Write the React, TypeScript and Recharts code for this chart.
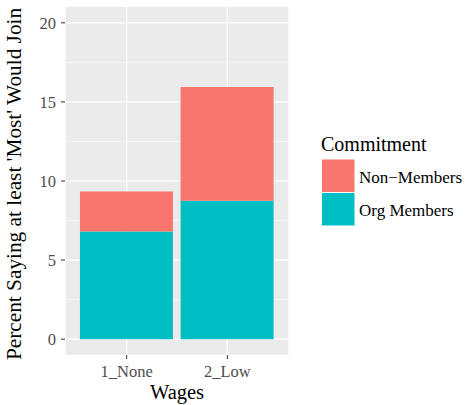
import React from 'react';
import { BarChart, Bar, XAxis, YAxis, CartesianGrid, Legend, Label } from 'recharts';

const categories = ['1_None', '2_Low'];
const orgMembers = [6.81, 8.75];
const nonMembers = [2.53, 7.2];
const yTicks = [0, 5, 10, 15, 20];
const yMinorTicks = [2.5, 7.5, 12.5, 17.5];
const legendTitle = 'Commitment';
const seriesNames = ['Non\u2212Members', 'Org Members'];
const seriesColors = ['#F8766D', '#00BFC4'];

const data = categories.map((c, i) => ({
  wage: c,
  org: orgMembers[i],
  non: nonMembers[i],
}));

const FONT = '"Liberation Serif", "Times New Roman", serif';

const XTick = (props: any) => {
  const { x, y, payload } = props;
  return (
    <text x={x} y={y + 12.5} textAnchor="middle" fontSize={16.5} fill="#4D4D4D" fontFamily={FONT}>
      {payload.value}
    </text>
  );
};

const YTick = (props: any) => {
  const { x, y, payload } = props;
  return (
    <text x={x} y={y + 5.8} textAnchor="end" fontSize={16.5} fill="#4D4D4D" fontFamily={FONT}>
      {payload.value}
    </text>
  );
};

const LegendContent = () => (
  <svg width={150} height={100} style={{ display: 'block', fontFamily: FONT }}>
    <text x={6} y={21} fontSize={20} fill="#000" fontFamily={FONT}>{legendTitle}</text>
    {seriesNames.map((name, i) => (
      <g key={name}>
        <rect x={7} y={29.5 + i * 33.5} width={32.5} height={32.5} fill={seriesColors[i]} />
        <text x={44} y={52.5 + i * 33} fontSize={17} fill="#000" fontFamily={FONT}>{name}</text>
      </g>
    ))}
  </svg>
);

export default function App() {
  return (
    <div style={{ position: 'absolute', left: 0, top: 0, width: 468, height: 405, background: '#fff', fontFamily: FONT }}>
      <BarChart
        width={468}
        height={405}
        data={data}
        margin={{ top: 7, right: 179, bottom: 0, left: 0 }}
        barCategoryGap="3.6%"
        style={{ fontFamily: FONT }}
      >
        <CartesianGrid
          fill="#EBEBEB"
          stroke="#FFFFFF"
          strokeWidth={0.6}
          vertical={false}
          horizontalValues={yMinorTicks}
        />
        <CartesianGrid
          stroke="#FFFFFF"
          strokeWidth={1.2}
          horizontalValues={yTicks}
        />
        <XAxis
          dataKey="wage"
          type="category"
          height={50}
          padding={{ left: 11.3, right: 11.3 }}
          axisLine={false}
          tickLine={{ stroke: '#333333', strokeWidth: 1 }}
          tickSize={4}
          tickMargin={5}
          tick={<XTick />}
        >
          <Label
            content={() => (
              <text x={177} y={399} textAnchor="middle" fontSize={20.5} fill="#000" fontFamily={FONT}>
                Wages
              </text>
            )}
          />
        </XAxis>
        <YAxis
          type="number"
          width={65}
          domain={[-1, 21]}
          ticks={yTicks}
          allowDataOverflow
          axisLine={false}
          tickLine={{ stroke: '#333333', strokeWidth: 1 }}
          tickSize={4}
          tickMargin={5}
          tick={<YTick />}
        >
          <Label
            content={() => (
              <text
                x={0}
                y={0}
                transform="translate(20.5,184) rotate(-90)"
                textAnchor="middle"
                fontSize={21.3}
                fill="#000"
                fontFamily={FONT}
              >
                Percent Saying at least 'Most' Would Join
              </text>
            )}
          />
        </YAxis>
        <Legend
          layout="vertical"
          align="center"
          verticalAlign="middle"
          wrapperStyle={{ left: 315, top: 130, width: 150, height: 100 }}
          content={() => <LegendContent />}
        />
        <Bar dataKey="org" stackId="a" fill={seriesColors[1]} isAnimationActive={false} name={seriesNames[1]} />
        <Bar dataKey="non" stackId="a" fill={seriesColors[0]} isAnimationActive={false} name={seriesNames[0]} />
      </BarChart>
    </div>
  );
}
